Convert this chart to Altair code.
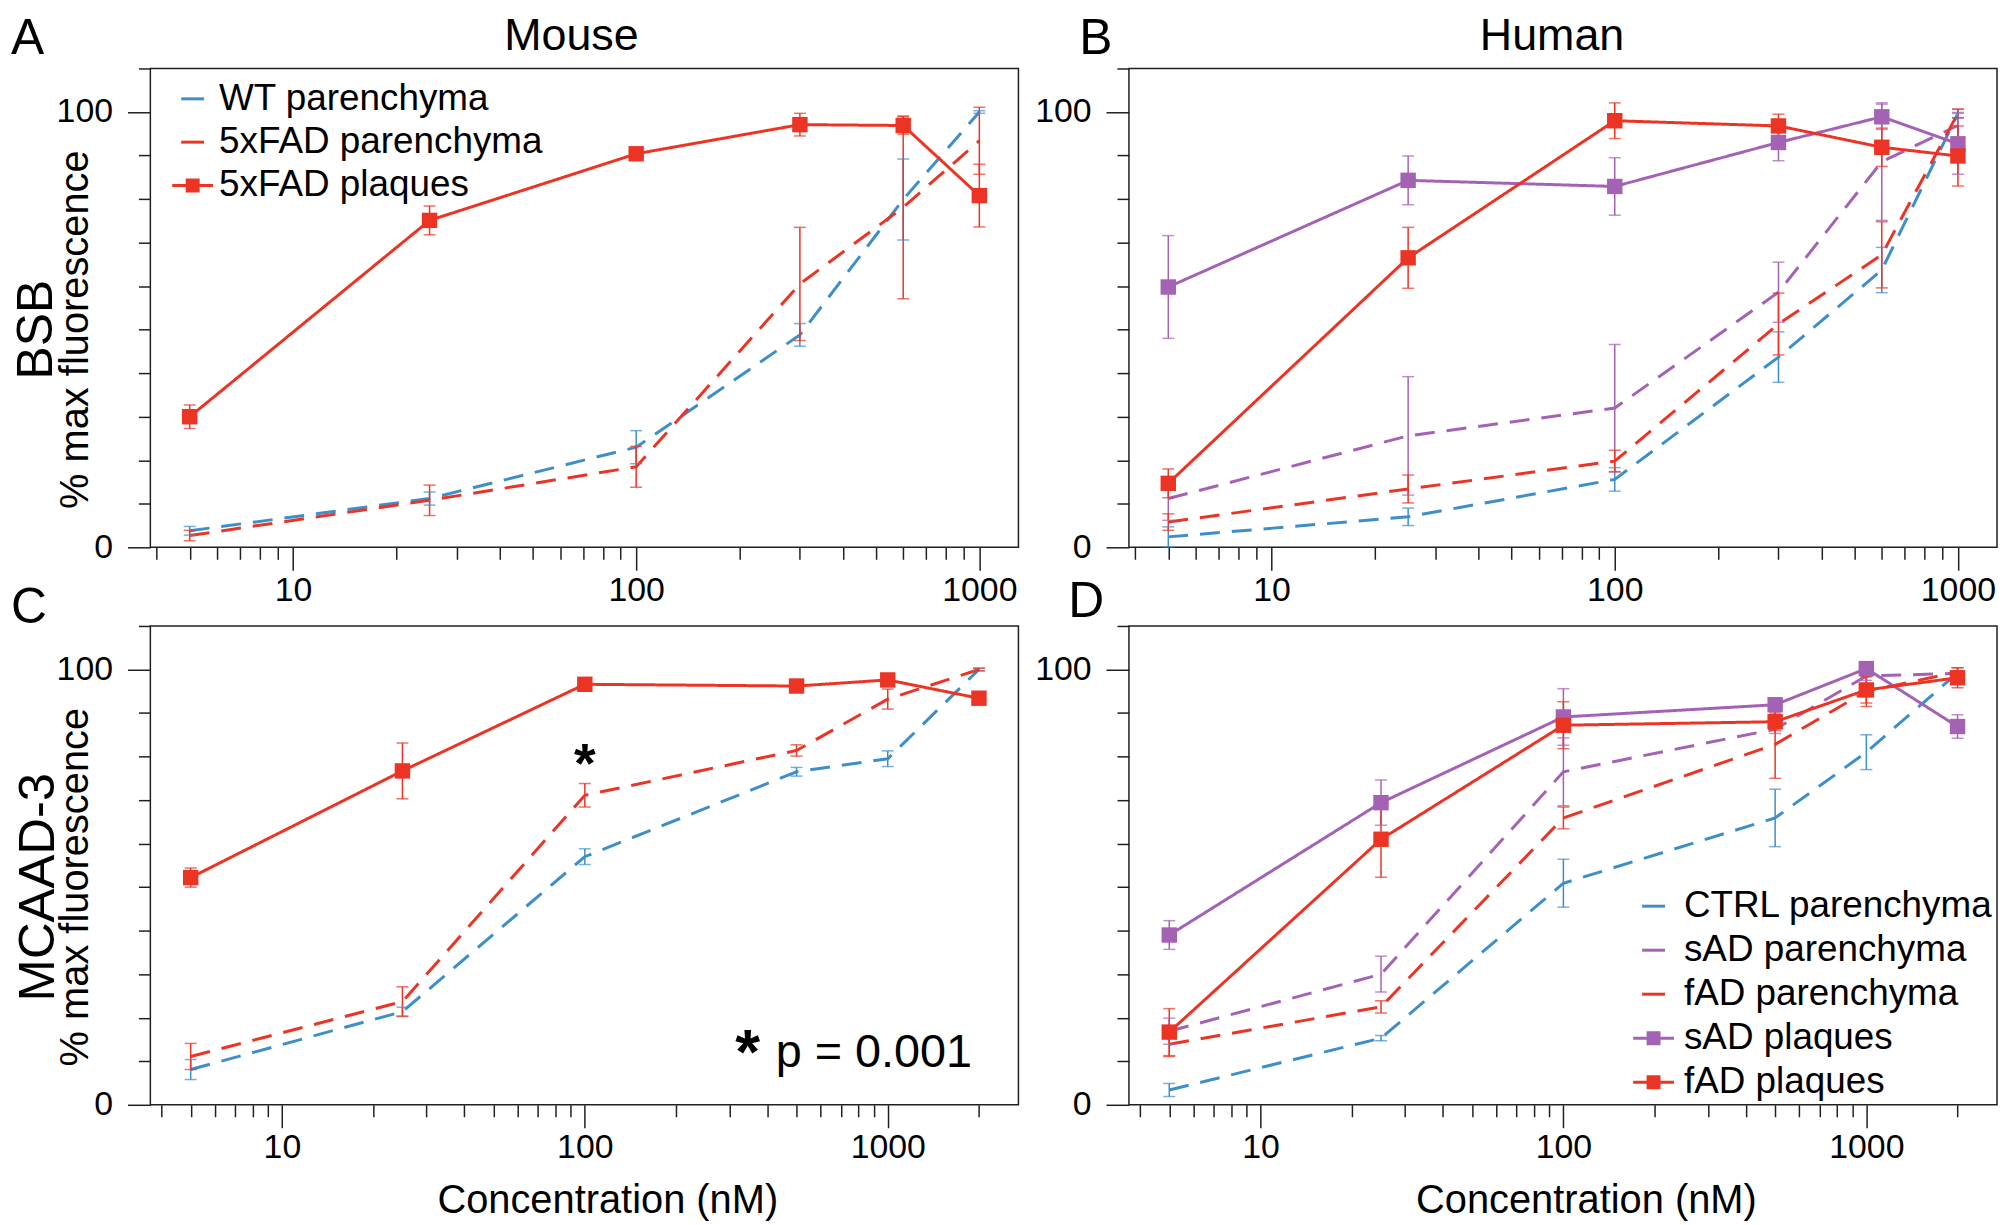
import json
import altair as alt
import pandas as pd

FONT = "Liberation Sans, Arial, Helvetica, sans-serif"
BLUE = "#3d8ec9"
RED = "#ec3425"
PURPLE = "#a462b5"

PANEL_W = 872
PANEL_H = 481
COL_GAP = 111
ROW_GAP = 79

# ---------------- Panel A : Mouse / BSB ----------------
A_conc = [5, 25, 100, 300, 600, 1000]
A_wt_par = [3.8, 11.2, 23.0, 48.8, 79.9, 100.0]
A_wt_par_err = [1.0, 1.5, 3.8, 2.6, 9.3, 0.3]
A_fad_par = [2.7, 10.8, 18.5, 60.5, 78.1, 93.4]
A_fad_par_err = [1.2, 3.5, 4.7, 13.0, 21.0, 7.7]
A_fad_plq = [30.0, 75.1, 90.4, 97.1, 96.9, 80.8]
A_fad_plq_err = [2.7, 3.3, 1.2, 2.6, 2.0, 7.2]

# ---------------- Panel B : Human / BSB ----------------
B_conc = [5, 25, 100, 300, 600, 1000]
B_ctrl_par = [2.4, 7.0, 15.6, 43.7, 63.7, 99.6]
B_ctrl_par_err = [2.3, 2.0, 2.7, 5.8, 5.2, 1.0]
B_sad_par = [11.2, 25.6, 32.0, 58.6, 88.6, 96.9]
B_sad_par_err = [5.0, 13.6, 14.6, 6.9, 13.5, 3.0]
B_fad_par = [5.8, 13.4, 19.8, 51.3, 67.2, 99.7]
B_fad_par_err = [1.9, 3.2, 2.5, 7.1, 7.6, 1.0]
B_sad_plq = [59.8, 84.3, 82.9, 93.0, 98.9, 92.7]
B_sad_plq_err = [11.8, 5.6, 6.6, 4.2, 2.9, 7.0]
B_fad_plq = [14.7, 66.5, 98.0, 96.8, 91.9, 89.9]
B_fad_plq_err = [3.3, 7.0, 4.1, 2.7, 4.4, 6.9]

# ---------------- Panel C : Mouse / MCAAD-3 ----------------
C_conc = [5, 25, 100, 500, 1000, 2000]
C_wt_par = [8.1, 21.4, 57.0, 76.5, 79.5, 100.0]
C_wt_par_err = [2.3, 1.0, 1.8, 1.0, 1.8, 0.3]
C_fad_par = [11.1, 23.7, 71.1, 81.4, 93.2, 100.0]
C_fad_par_err = [3.0, 3.4, 2.7, 1.3, 2.3, 0.3]
C_fad_plq = [52.2, 76.7, 96.6, 96.2, 97.6, 93.4]
C_fad_plq_err = [2.2, 6.4, 0.8, 0.8, 0.8, 0.8]

# ---------------- Panel D : Human / MCAAD-3 ----------------
D_conc = [5, 25, 100, 500, 1000, 2000]
D_ctrl_par = [3.4, 15.3, 50.9, 65.9, 81.0, 99.2]
D_ctrl_par_err = [1.5, 0.6, 5.5, 6.6, 4.0, 0.5]
D_sad_par = [16.9, 30.0, 76.5, 86.3, 98.5, 99.1]
D_sad_par_err = [3.0, 4.1, 7.8, 1.0, 1.0, 0.5]
D_fad_par = [13.9, 22.5, 65.9, 82.8, 95.0, 99.4]
D_fad_par_err = [2.8, 1.4, 2.5, 7.8, 3.5, 1.0]
D_sad_plq = [39.0, 69.4, 89.1, 91.9, 100.2, 86.9]
D_sad_plq_err = [3.3, 5.2, 6.5, 1.0, 1.0, 2.7]
D_fad_plq = [16.7, 61.0, 87.2, 88.0, 95.3, 98.1]
D_fad_plq_err = [5.4, 8.7, 5.4, 2.0, 3.0, 2.3]

# axis ticks
X_TICKS_1000 = [4, 5, 6, 7, 8, 9, 10, 20, 30, 40, 50, 60, 70, 80, 90,
                100, 200, 300, 400, 500, 600, 700, 800, 900, 1000]
X_TICKS_2000 = X_TICKS_1000 + [2000]
X_MAJOR = [10, 100, 1000]
Y_TICKS = [0, 10, 20, 30, 40, 50, 60, 70, 80, 90, 100, 110]
Y_MAJOR = [0, 100]

PAR_PATH = "M-1.15,0H1.15"
PLQ_PATH = "M-2.05,0H2.05M-0.55,-0.55H0.55V0.55H-0.55Z"

DUMMY = pd.DataFrame({"a": [0]})


def make_df(conc, series):
    rows = []
    for name, kind, vals, errs in series:
        for c, v, e in zip(conc, vals, errs):
            rows.append({"series": name, "kind": kind, "conc": c,
                         "value": v, "lo": v - e, "hi": v + e})
    return pd.DataFrame(rows)


def pick_expr(names, values):
    """Vega expression choosing values[i] for the legend entry whose value is names[i]."""
    return "%s[indexof(%s, datum.value)]" % (json.dumps(values), json.dumps(names))


def x_axis(values, title):
    test = "indexof(%s, datum.value) >= 0" % json.dumps(X_MAJOR)
    kw = dict(values=values,
              labelExpr=f"{test} ? format(datum.value, 'd') : ''",
              tickSize={"condition": {"test": test, "value": 23}, "value": 12},
              labelPadding=3, labelFlush=False, labelOverlap=False,
              labelBaseline="top")
    if title:
        kw.update(titleFont=FONT, titleFontSize=40, titleFontWeight="normal",
                  titleColor="black", titleX=PANEL_W / 2 + 23, titleY=108,
                  titleBaseline="alphabetic", titleAlign="center")
    return alt.Axis(**kw)


def y_axis():
    test = "indexof(%s, datum.value) >= 0" % json.dumps(Y_MAJOR)
    return alt.Axis(values=Y_TICKS,
                    labelExpr=f"{test} ? format(datum.value, 'd') : ''",
                    tickSize={"condition": {"test": test, "value": 23}, "value": 12},
                    labelPadding=15, labelFlush=False, labelOverlap=False,
                    labelBaseline="middle", title=None)


def label(txt, x, y, size, align="left", angle=0, weight="normal"):
    mk = dict(text=txt, font=FONT, fontSize=size, align=align,
              baseline="alphabetic", color="black", fontWeight=weight)
    if angle:
        mk["angle"] = angle
    return alt.Chart(DUMMY).mark_text(**mk).encode(x=x, y=y)


def legend_def(series, names, colors, lx, ly, loff, rpad, channel):
    kinds = [k for (_, k, _, _) in series]
    paths = [PLQ_PATH if k == "plaques" else PAR_PATH for k in kinds]
    kw = dict(orient="none", legendX=lx, legendY=ly, title=None,
              labelFont=FONT, labelFontSize=37, labelColor="black",
              labelLimit=800, labelOffset=loff, symbolSize=400,
              symbolStrokeWidth=3, symbolOpacity=1, rowPadding=rpad,
              padding=0, symbolOffset=-8,
              symbolType=alt.ExprRef(pick_expr(names, paths)))
    if channel == "fill":
        kw["symbolStrokeColor"] = alt.ExprRef(pick_expr(names, colors))
    else:
        fills = [c if k == "plaques" else "transparent" for c, k in zip(colors, kinds)]
        kw["symbolFillColor"] = alt.ExprRef(pick_expr(names, fills))
    return alt.Legend(**kw)


def panel(conc, series, names, colors, xdom, xticks, xtitle, title, title_x,
          letter, letter_x, letter_y, row_label=None, legend=None, extra=None):
    df = make_df(conc, series)
    xenc = alt.X("conc:Q", scale=alt.Scale(type="log", domain=xdom, nice=False),
                 axis=x_axis(xticks, xtitle), title=xtitle)
    yscale = alt.Scale(domain=[0, 110], nice=False, zero=False)
    color = alt.Color("series:N", scale=alt.Scale(domain=names, range=colors), legend=None)
    base = alt.Chart(df)

    lines = base.mark_line(strokeWidth=3).encode(
        x=xenc,
        y=alt.Y("value:Q", scale=yscale, axis=y_axis(), title=None),
        color=color,
        strokeDash=alt.StrokeDash("kind:N", scale=alt.Scale(
            domain=["parenchyma", "plaques"], range=[[20, 12], [1, 0]]), legend=None),
        detail="series:N",
    )
    rules = base.mark_rule(strokeWidth=1.5).encode(
        x=xenc, y=alt.Y("lo:Q", scale=yscale, title=None), y2="hi:Q", color=color)
    cap_lo = base.mark_tick(orient="horizontal", size=12, thickness=1.5).encode(
        x=xenc, y=alt.Y("lo:Q", scale=yscale, title=None), color=color)
    cap_hi = base.mark_tick(orient="horizontal", size=12, thickness=1.5).encode(
        x=xenc, y=alt.Y("hi:Q", scale=yscale, title=None), color=color)
    squares = base.transform_filter(alt.datum.kind == "plaques").mark_square(
        size=240, filled=True, opacity=1).encode(
        x=xenc, y=alt.Y("value:Q", scale=yscale, title=None), color=color)
    layers = [lines, rules, cap_lo, cap_hi, squares]

    if legend is not None:
        channel, lx, ly, loff, rpad = legend
        lg = legend_def(series, names, colors, lx, ly, loff, rpad, channel)
        scale = alt.Scale(domain=names, range=colors)
        if channel == "fill":
            leg = base.mark_point(opacity=0, filled=True, strokeWidth=3).encode(
                x=xenc, y=alt.Y("value:Q", scale=yscale, title=None),
                fill=alt.Fill("series:N", scale=scale, legend=lg))
        else:
            leg = base.mark_rule(opacity=0, strokeWidth=3).encode(
                x=xenc, stroke=alt.Stroke("series:N", scale=scale, legend=lg))
        layers.append(leg)

    layers.append(label(letter, alt.value(letter_x), alt.value(letter_y), 50))
    if title:
        layers.append(label(title, alt.value(title_x), alt.value(-19), 45, align="center"))

    if row_label is not None:
        rl_text, rl_size, rl_x, fl_x = row_label
        layers.append(label(rl_text, alt.value(rl_x), alt.datum(50), rl_size,
                            align="center", angle=270))
        layers.append(label("% max fluorescence", alt.value(fl_x), alt.datum(50), 40,
                            align="center", angle=270))

    if extra:
        layers.extend(extra)

    return alt.layer(*layers).properties(width=PANEL_W, height=PANEL_H)


XDOM_1000 = [3.84, 1300]
XDOM_2000 = [3.68, 2700]

mouse_names = ["WT parenchyma", "5xFAD parenchyma", "5xFAD plaques"]
mouse_colors = [BLUE, RED, RED]
human_names = ["CTRL parenchyma", "sAD parenchyma", "fAD parenchyma",
               "sAD plaques", "fAD plaques"]
human_colors = [BLUE, PURPLE, RED, PURPLE, RED]

# legends live at the top level; origin = top-left of panel A's plot area
D_ORIGIN_X = PANEL_W + COL_GAP
D_ORIGIN_Y = PANEL_H + ROW_GAP

panel_a = panel(
    A_conc,
    [("WT parenchyma", "parenchyma", A_wt_par, A_wt_par_err),
     ("5xFAD parenchyma", "parenchyma", A_fad_par, A_fad_par_err),
     ("5xFAD plaques", "plaques", A_fad_plq, A_fad_plq_err)],
    mouse_names, mouse_colors, XDOM_1000, X_TICKS_1000, None, "Mouse", 423,
    "A", -140, -15, row_label=("BSB", 50, -99, -63),
    legend=("fill", 32, 12, 8, 5.5))

panel_b = panel(
    B_conc,
    [("CTRL parenchyma", "parenchyma", B_ctrl_par, B_ctrl_par_err),
     ("sAD parenchyma", "parenchyma", B_sad_par, B_sad_par_err),
     ("fAD parenchyma", "parenchyma", B_fad_par, B_fad_par_err),
     ("sAD plaques", "plaques", B_sad_plq, B_sad_plq_err),
     ("fAD plaques", "plaques", B_fad_plq, B_fad_plq_err)],
    human_names, human_colors, XDOM_1000, X_TICKS_1000, None, "Human", 425,
    "B", -50, -15)

c_extra = [
    label("*", alt.datum(100), alt.datum(74.2), 56, align="center", weight="bold"),
    label("*", alt.datum(345), alt.datum(7.3), 64, align="center", weight="bold"),
    label("p = 0.001", alt.datum(427), alt.datum(8.7), 47),
]

panel_c = panel(
    C_conc,
    [("WT parenchyma", "parenchyma", C_wt_par, C_wt_par_err),
     ("5xFAD parenchyma", "parenchyma", C_fad_par, C_fad_par_err),
     ("5xFAD plaques", "plaques", C_fad_plq, C_fad_plq_err)],
    mouse_names, mouse_colors, XDOM_2000, X_TICKS_2000, "Concentration (nM)", None, 0,
    "C", -140, -3, row_label=("MCAAD-3", 51, -97, -63), extra=c_extra)

panel_d = panel(
    D_conc,
    [("CTRL parenchyma", "parenchyma", D_ctrl_par, D_ctrl_par_err),
     ("sAD parenchyma", "parenchyma", D_sad_par, D_sad_par_err),
     ("fAD parenchyma", "parenchyma", D_fad_par, D_fad_par_err),
     ("sAD plaques", "plaques", D_sad_plq, D_sad_plq_err),
     ("fAD plaques", "plaques", D_fad_plq, D_fad_plq_err)],
    human_names, human_colors, XDOM_2000, X_TICKS_2000, "Concentration (nM)", None, 0,
    "D", -61, -9,
    legend=("stroke", D_ORIGIN_X + 516.5, D_ORIGIN_Y + 263, 12, 6.2))

chart = alt.concat(
    panel_a, panel_b, panel_c, panel_d, columns=2,
    spacing={"row": ROW_GAP, "column": COL_GAP}, bounds="flush",
).resolve_scale(
    color="independent", strokeDash="independent",
).properties(padding=2).configure_view(
    stroke="#231f20", strokeWidth=1.5
).configure_axis(
    labelFont=FONT, labelFontSize=34, labelColor="black",
    tickColor="#231f20", tickWidth=1.5, domain=False, grid=False,
)

chart.save("out.html", embed_options={"renderer": "svg", "actions": False})
